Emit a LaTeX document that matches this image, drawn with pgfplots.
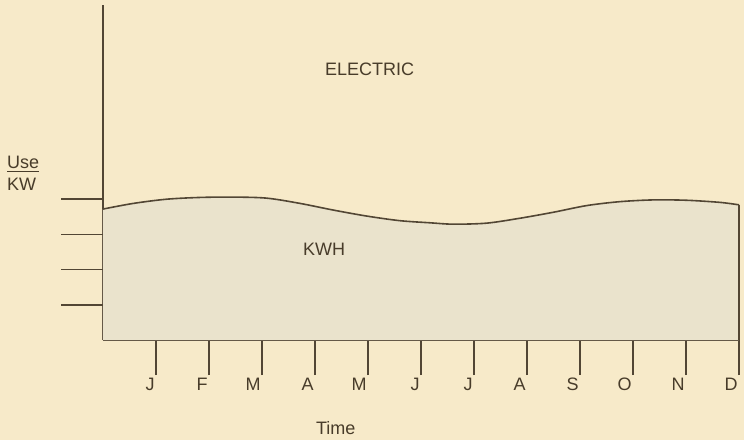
\documentclass[border=0pt]{standalone}
\usepackage{fontspec}
\setmainfont{Liberation Sans}
\usepackage{pgfplots}
\pgfplotsset{compat=1.18}
\definecolor{bgcol}{RGB}{247,234,201}
\definecolor{fillcol}{RGB}{234,227,204}
\definecolor{linecol}{RGB}{82,70,52}
\definecolor{txtcol}{RGB}{72,60,42}
\begin{document}
\begin{tikzpicture}
\fill[bgcol] (0,0) rectangle (372pt,220pt);
\begin{axis}[
  at={(51.5pt,50pt)}, anchor=south west,
  scale only axis, width=318pt, height=167.5pt,
  xmin=0, xmax=12, ymin=0, ymax=9.517,
  axis lines=left,
  axis line style={draw=linecol, line width=0.8pt, -},
  clip=false,
  xtick={1,2,3,4,5,6,7,8,9,10,11,12},
  xticklabels={J,F,M,A,M,J,J,A,S,O,N,D},
  ytick=\empty,
  tick align=outside,
  major tick length=17.5pt,
  xtick style={draw=linecol, line width=0.8pt},
  xticklabel style={anchor=north east, inner sep=0pt, xshift=-0.5pt, text=txtcol, font=\fontsize{9}{11}\selectfont},
  xticklabel shift=1.5pt,
  font=\fontsize{9}{11}\selectfont,
]
\addplot[fill=fillcol, draw=none, smooth] coordinates {
(0,3.72) (0.57,3.88) (1.20,4.00) (1.83,4.05) (2.46,4.06) (3.09,4.03) (3.72,3.88) (4.35,3.69) (4.98,3.52) (5.60,3.39) (6.17,3.33) (6.61,3.29) (7.24,3.32) (7.87,3.46) (8.50,3.63) (9.13,3.82) (9.75,3.93) (10.38,3.98) (11.01,3.97) (11.64,3.91) (12,3.84)
} \closedcycle;
\addplot[draw=linecol, line width=0.8pt, smooth] coordinates {
(0,3.72) (0.57,3.88) (1.20,4.00) (1.83,4.05) (2.46,4.06) (3.09,4.03) (3.72,3.88) (4.35,3.69) (4.98,3.52) (5.60,3.39) (6.17,3.33) (6.61,3.29) (7.24,3.32) (7.87,3.46) (8.50,3.63) (9.13,3.82) (9.75,3.93) (10.38,3.98) (11.01,3.97) (11.64,3.91) (12,3.84)
};
\addplot[draw=linecol, line width=0.8pt] coordinates {(12,3.84) (12,0)};
\draw[linecol, line width=0.8pt] (axis cs:0,1) -- ++(-21pt,0);
\draw[linecol, line width=0.8pt] (axis cs:0,2) -- ++(-21pt,0);
\draw[linecol, line width=0.8pt] (axis cs:0,3) -- ++(-21pt,0);
\draw[linecol, line width=0.8pt] (axis cs:0,4) -- ++(-21pt,0);
\node[text=txtcol, inner sep=0pt] at (axis cs:5.03,7.68) {ELECTRIC};
\node[text=txtcol, inner sep=0pt] at (axis cs:4.17,2.59) {KWH};
\node[text=txtcol, inner sep=0pt] at (axis cs:4.39,-2.5) {Time};
\node[text=txtcol, inner sep=0pt, anchor=base west] at (axis cs:-1.817,4.886) {\underline{Use}};
\node[text=txtcol, inner sep=0pt, anchor=base west] at (axis cs:-1.817,4.261) {KW};
\end{axis}
\end{tikzpicture}
\end{document}
